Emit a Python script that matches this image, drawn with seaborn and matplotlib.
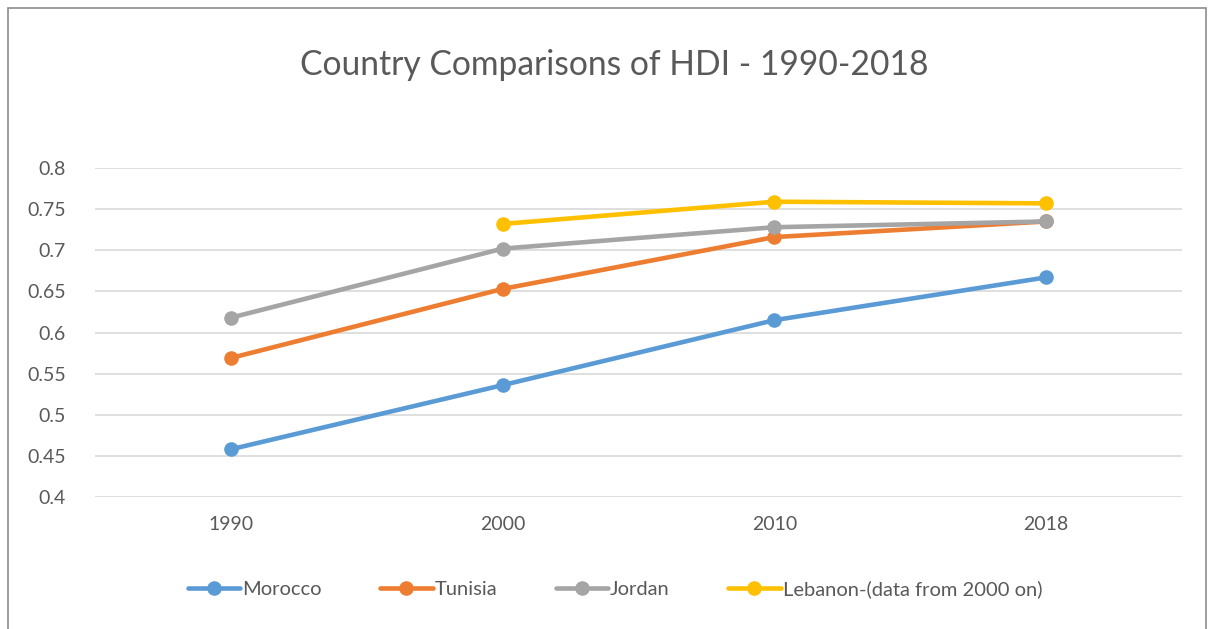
import numpy as np
import pandas as pd
import matplotlib
matplotlib.use("Agg")
import matplotlib.pyplot as plt
import seaborn as sns
from matplotlib.patches import Rectangle

years = ["1990", "2000", "2010", "2018"]
morocco = [0.458, 0.536, 0.615, 0.667]
tunisia = [0.569, 0.653, 0.716, 0.735]
jordan = [0.618, 0.702, 0.728, 0.735]
lebanon = [np.nan, 0.732, 0.759, 0.757]
series_names = ["Morocco", "Tunisia", "Jordan", "Lebanon-(data from 2000 on)"]
colors = ["#5B9BD5", "#ED7D31", "#A5A5A5", "#FFC000"]
yticks = [0.4, 0.45, 0.5, 0.55, 0.6, 0.65, 0.7, 0.75, 0.8]

rows = []
for name, vals in zip(series_names, [morocco, tunisia, jordan, lebanon]):
    for y, v in zip(years, vals):
        rows.append({"Year": y, "HDI": v, "Country": name})
df = pd.DataFrame(rows)

sns.set_theme(style="white")
plt.rcParams["font.family"] = ["Lato", "DejaVu Sans"]
txt = "#595959"

fig = plt.figure(figsize=(12.11, 6.29), dpi=100)
ax = fig.add_axes([95/1211, (629-497)/629, (1182-95)/1211, (497-168)/629])

sns.lineplot(data=df, x="Year", y="HDI", hue="Country", palette=colors,
             hue_order=series_names, marker="o", markersize=10.5, linewidth=3.3,
             markeredgewidth=0, ax=ax, sort=False, legend=True)

ax.set_xlim(-0.5, 3.5)
ax.set_ylim(0.4, 0.8)
ax.set_yticks(yticks)
ax.set_yticklabels([f"{t:g}" for t in yticks])
ax.yaxis.grid(True, color="#D9D9D9", linewidth=1.2)
ax.set_axisbelow(True)
for s in ax.spines.values():
    s.set_visible(False)
ax.tick_params(axis="both", length=0, labelsize=14, colors=txt)
ax.tick_params(axis="y", pad=21)
ax.tick_params(axis="x", pad=14)
ax.set_xlabel("")
ax.set_ylabel("")

handles, labels = ax.get_legend_handles_labels()
ax.legend_.remove()
fig.legend(handles, labels, loc="center", bbox_to_anchor=(615/1211, 1-589/629),
           ncol=4, frameon=False, fontsize=14.5, labelcolor=txt,
           handlelength=2.6, handletextpad=0.1, columnspacing=2.9)

fig.text(614/1211, 1-65/629, "Country Comparisons of HDI - 1990-2018",
         ha="center", va="center", fontsize=24.2, color=txt)

fig.patches.append(Rectangle((8/1211, -0.1), (1206-8)/1211, 1.1-8/629,
                             transform=fig.transFigure, fill=False,
                             edgecolor="#8C8C8C", linewidth=1.2))

fig.savefig("out.png", dpi=100)
